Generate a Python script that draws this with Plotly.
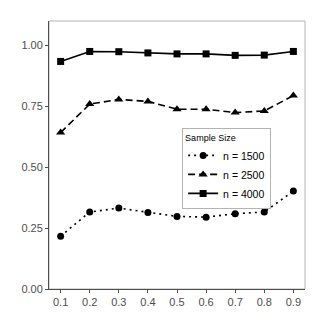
import plotly.graph_objects as go

x_vals = [0.1, 0.2, 0.3, 0.4, 0.5, 0.6, 0.7, 0.8, 0.9]
n1500 = [0.217, 0.316, 0.332, 0.314, 0.298, 0.295, 0.309, 0.316, 0.402]
n2500 = [0.642, 0.759, 0.778, 0.770, 0.738, 0.738, 0.724, 0.731, 0.794]
n4000 = [0.934, 0.975, 0.974, 0.969, 0.965, 0.965, 0.959, 0.960, 0.975]
series_names = ["n = 1500", "n = 2500", "n = 4000"]
x_ticks = [0.1, 0.2, 0.3, 0.4, 0.5, 0.6, 0.7, 0.8, 0.9]
y_ticks = [0.0, 0.25, 0.5, 0.75, 1.0]
y_labels = ["0.00", "0.25", "0.50", "0.75", "1.00"]

styles = [
    dict(dash="2px,4px", symbol="circle", size=7),
    dict(dash="7px,4px", symbol="triangle-up", size=8),
    dict(dash="solid", symbol="square", size=7),
]

fig = go.Figure()
for name, vals, st in zip(series_names, [n1500, n2500, n4000], styles):
    fig.add_trace(go.Scatter(
        x=x_vals, y=vals, name=name, mode="lines+markers",
        line=dict(color="black", width=1.6, dash=st["dash"]),
        marker=dict(color="black", symbol=st["symbol"], size=st["size"]),
    ))

font = "Liberation Sans, Arial, sans-serif"
fig.update_layout(
    width=327, height=327,
    margin=dict(l=49, r=22, t=21, b=38),
    paper_bgcolor="white", plot_bgcolor="white",
    font=dict(family=font, color="#4d4d4d", size=11),
    showlegend=True,
    legend=dict(
        title=dict(text="Sample Size", font=dict(size=9, color="black")),
        font=dict(size=10.5, color="black"),
        x=0.52, y=0.60, xanchor="left", yanchor="top",
        bgcolor="white", bordercolor="#b3b3b3", borderwidth=1,
        tracegroupgap=0, itemwidth=30,
    ),
    xaxis=dict(
        range=[0.06, 0.94], tickvals=x_ticks, ticktext=[str(v) for v in x_ticks],
        showgrid=False, zeroline=False, ticks="outside", ticklen=3,
        tickcolor="#4d4d4d", showline=True, linecolor="#4d4d4d", linewidth=1,
        mirror=False, tickfont=dict(size=11, color="#4d4d4d"),
    ),
    yaxis=dict(
        range=[0, 1.1], tickvals=y_ticks, ticktext=y_labels,
        showgrid=False, zeroline=False, ticks="outside", ticklen=3,
        tickcolor="#4d4d4d", showline=True, linecolor="#4d4d4d", linewidth=1,
        tickfont=dict(size=11, color="#4d4d4d"),
    ),
    shapes=[dict(type="rect", xref="paper", yref="paper", x0=0, y0=0, x1=1, y1=1,
                 line=dict(color="#b3b3b3", width=1), fillcolor="rgba(0,0,0,0)", layer="below")],
)

fig.write_html("out.html", config={"displayModeBar": False},
               post_script="document.body.style.margin='0';")
